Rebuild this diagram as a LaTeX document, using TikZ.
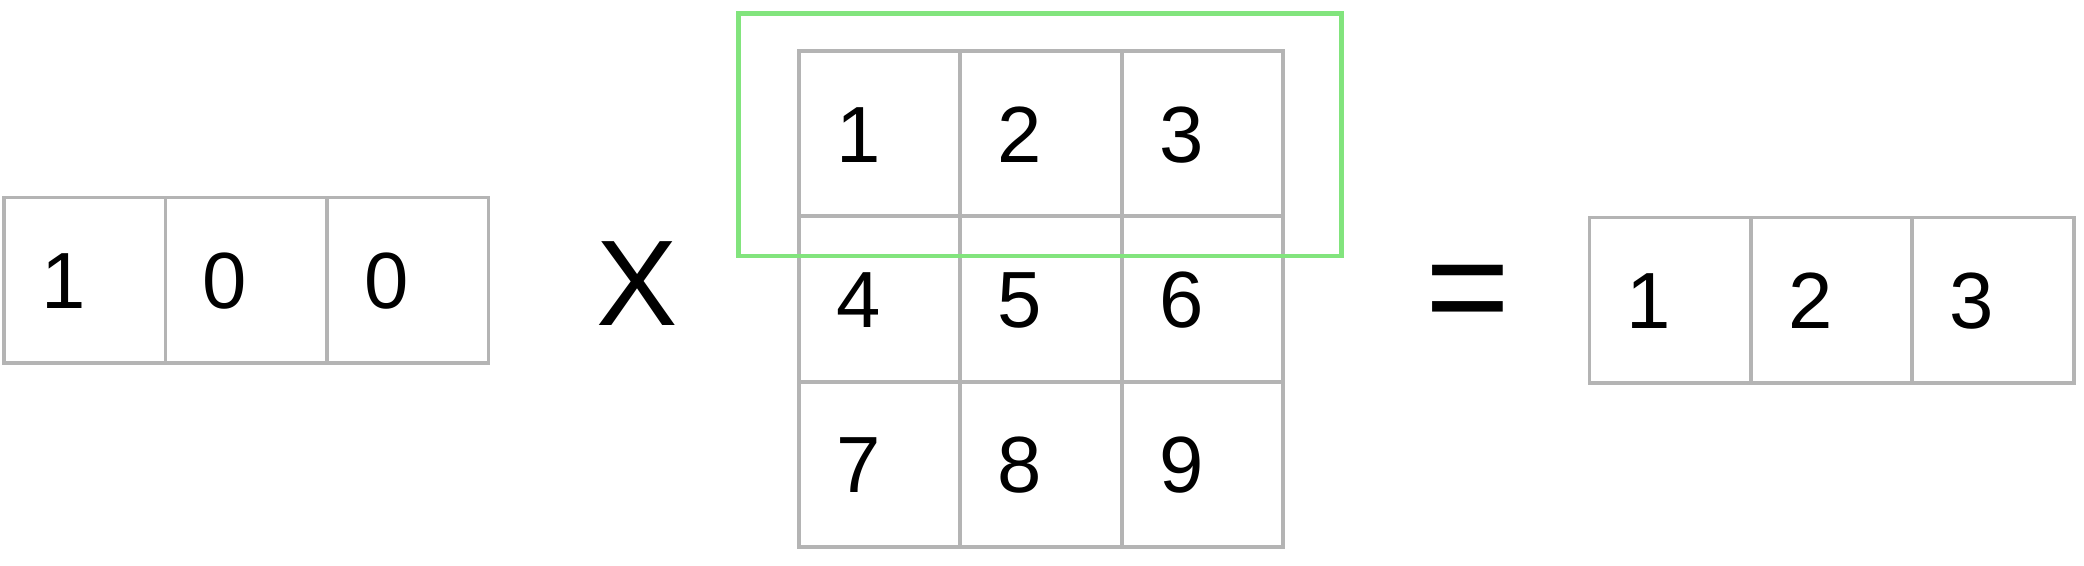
\documentclass[tikz,border=0pt]{standalone}
\usepackage{fontspec}
\setmainfont{Liberation Sans}
\usetikzlibrary{matrix}
\definecolor{cellgray}{RGB}{180,180,180}
\definecolor{selgreen}{RGB}{130,228,125}

\begin{document}
\begin{tikzpicture}[x = 0.01cm, y = -0.01cm,
    cell/.style = {draw = cellgray, line width = 0.8pt, minimum width = 1.21cm, minimum height = 1.24cm,
                   text height = 12.2pt, text depth = 0pt,
                   inner xsep = 0.28cm, text width = 0.65cm, align = left, font = \fontsize{17}{20}\selectfont},
    grid/.style = {matrix of nodes, nodes = {cell}, column sep = -0.8pt, row sep = -0.8pt, inner sep = 0pt, anchor = north west},
    sign/.style = {inner sep = 0pt, font = \fontsize{26}{30}\selectfont}]
  \useasboundingbox (0,0) rectangle (1563,424.5);
  \matrix (a) [grid] at (1,146)
  {
    1 & 0 & 0 \\
  };
  \node[sign] (times) at (478,213) {X};
  \matrix (m) [grid] at (597,36)
  {
    1 & 2 & 3 \\
    4 & 5 & 6 \\
    7 & 8 & 9 \\
  };
  \node[sign, font = \fontsize{31}{34}\selectfont] (eq) at (1101,226) {=};
  \matrix (r) [grid] at (1190,161)
  {
    1 & 2 & 3 \\
  };
  % selected row
  \draw[selgreen, line width = 1pt] (554,10) rectangle (1006,192);
\end{tikzpicture}
\end{document}
